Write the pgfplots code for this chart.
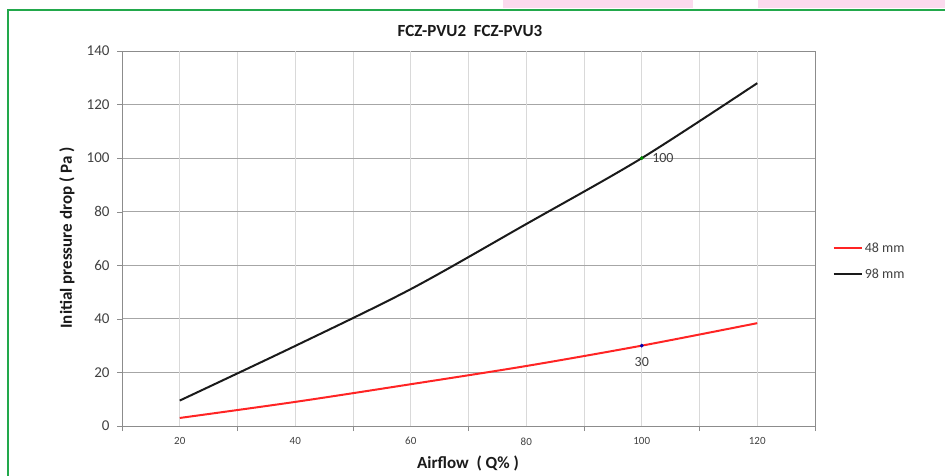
\documentclass[border=0pt]{standalone}
\usepackage{pgfplots}
\pgfplotsset{compat=1.18}
\usepackage{fontspec}
\setmainfont{Carlito}

\definecolor{txtgray}{HTML}{404040}
\definecolor{gridhor}{HTML}{A6A6A6}
\definecolor{gridver}{HTML}{D9D9D9}
\definecolor{axgray}{HTML}{8C8C8C}
\definecolor{linered}{HTML}{FF2424}
\definecolor{lineblack}{HTML}{1A1A1A}
\definecolor{framegreen}{HTML}{22A84B}
\definecolor{boxpink}{HTML}{FBDAEE}

\begin{document}
\begin{tikzpicture}[x=1pt,y=1pt]
  \useasboundingbox (0,0) rectangle (945,475);
  % bits of the page above the chart
  \fill[boxpink] (503,467) rectangle (693,475);
  \fill[boxpink] (758,467) rectangle (945,475);
  \draw[framegreen, line width=2pt] (8,-5) |- (950,465);

  \begin{axis}[
    at={(122pt,49pt)}, anchor=south west,
    scale only axis,
    width=693pt, height=375pt,
    xmin=10, xmax=130,
    ymin=0, ymax=140,
    /pgf/number format/assume math mode=true,
    axis line style={draw=axgray},
    tick align=outside,
    xtick pos=bottom, ytick pos=left,
    major tick length=5pt,
    tick style={draw=axgray},
    xtick={10,30,...,130},
    xticklabels={},
    extra x ticks={20,40,...,120},
    extra x tick style={major tick length=0pt},
    extra x tick labels={20,40,60,80,100,120},
    ytick={0,20,...,140},
    xticklabel style={font=\fontsize{11}{13}\selectfont, text=txtgray, yshift=-8pt},
    yticklabel style={font=\fontsize{15}{18}\selectfont, text=txtgray, xshift=-4pt},
    xmajorgrids, ymajorgrids,
    major x grid style={draw=gridver, line width=1pt},
    major y grid style={draw=gridhor, line width=0.8pt},
    legend style={at={(1.021,0.44)}, anchor=west, draw=none, fill=none,
      font=\fontsize{14}{17}\selectfont, text=txtgray, row sep=11pt},
    legend cell align=left,
    legend image code/.code={\draw[#1] (0pt,0pt) -- (24pt,0pt);
      \path (0pt,0pt) -- (28pt,0pt);},
  ]
    \addplot[linered, line width=2pt, smooth] coordinates {
      (20,3.0) (40,9.0) (60,15.6) (80,22.4) (100,30.0) (120,38.4)};
    \addlegendentry{48 mm}
    \addplot[lineblack, line width=2pt, smooth] coordinates {
      (20,9.5) (40,29.9) (60,51.1) (80,75.4) (100,100.0) (120,128.0)};
    \addlegendentry{98 mm}
    % labelled points
    \addplot[only marks, mark=*, mark size=1.8pt, color=green!55!black,
      nodes near coords, point meta=explicit symbolic,
      every node near coord/.style={anchor=west, xshift=7pt,
        font=\fontsize{14}{17}\selectfont, text=txtgray},
      forget plot] coordinates {(100,100) [100]};
    \addplot[only marks, mark=*, mark size=1.8pt, color=blue!70!black,
      nodes near coords, point meta=explicit symbolic,
      every node near coord/.style={anchor=north, yshift=-8pt,
        font=\fontsize{14}{17}\selectfont, text=txtgray},
      forget plot] coordinates {(100,30) [30]};
  \end{axis}

  \node[font=\fontsize{17}{20}\selectfont\bfseries, text=lineblack] at (470,444) {FCZ-PVU2\ \ FCZ-PVU3};
  \node[font=\fontsize{17}{20}\selectfont\bfseries, text=lineblack] at (468,12) {Airflow\ \ ( Q\% )};
  \node[font=\fontsize{17}{20}\selectfont\bfseries, text=lineblack, rotate=90] at (67,237) {Initial pressure drop ( Pa )};
\end{tikzpicture}
\end{document}
